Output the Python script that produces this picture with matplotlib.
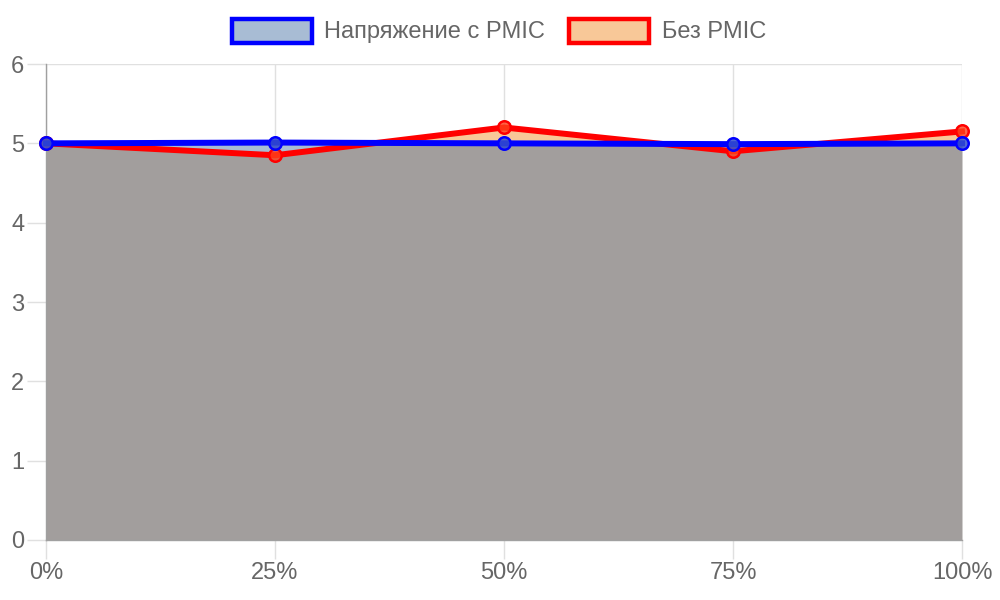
import matplotlib
matplotlib.use("Agg")
import matplotlib.pyplot as plt
from matplotlib.patches import Rectangle
import numpy as np

categories = ["0%", "25%", "50%", "75%", "100%"]
pmic = [5.0, 5.01, 5.0, 4.99, 5.0]
no_pmic = [5.0, 4.85, 5.2, 4.9, 5.15]
series_names = ["Напряжение с PMIC", "Без PMIC"]
y_ticks = [0, 1, 2, 3, 4, 5, 6]

plt.rcParams['font.family'] = ['Liberation Sans', 'DejaVu Sans']
TXT = '#666666'
BLUE_FILL = '#a8bcd4'
RED_FILL = '#f8c898'
GRAY = '#a29e9d'
FS = 17

fig = plt.figure(figsize=(10, 6), dpi=100)
ax = fig.add_axes([0.046, 0.1, 0.916, 0.7933])

x = np.arange(len(categories))
b = np.array(pmic)
r = np.array(no_pmic)

xs = np.linspace(0, len(categories) - 1, 2000)
bs = np.interp(xs, x, b)
rs = np.interp(xs, x, r)
los = np.minimum(bs, rs)
ax.fill_between(xs, 0, los, color=GRAY, lw=0, zorder=1)
ax.fill_between(xs, los, bs, where=bs >= los, color=BLUE_FILL, lw=0, zorder=1)
ax.fill_between(xs, los, rs, where=rs >= los, color=RED_FILL, lw=0, zorder=1)

ax.plot(x, r, color='#ff0000', lw=4.3, zorder=3, clip_on=False)
ax.plot(x, r, 'o', ms=9, mfc=(1, 0.25, 0.1, 0.8), mec='#ff0000', mew=1.8, zorder=4, clip_on=False)
ax.plot(x, b, color='#0000ff', lw=4.3, zorder=5, clip_on=False)
ax.plot(x, b, 'o', ms=9, mfc=(0.2, 0.3, 0.8, 0.85), mec='#0000ff', mew=1.8, zorder=6, clip_on=False)

ax.set_xlim(0, len(categories) - 1)
ax.set_ylim(0, 6)
ax.set_xticks(x)
ax.set_xticklabels(categories)
ax.set_yticks(y_ticks)
ax.set_yticklabels([str(v) for v in y_ticks])
ax.grid(True, color='#e0e0e0', lw=1, zorder=0)
ax.set_axisbelow(True)
for s in ['top', 'right']:
    ax.spines[s].set_visible(False)
for s in ['left', 'bottom']:
    ax.spines[s].set_color('#a0a0a0')
    ax.spines[s].set_linewidth(1)
    ax.spines[s].set_zorder(2)
ax.tick_params(axis='both', colors='#e0e0e0', labelcolor=TXT, labelsize=FS, length=14, width=1)
ax.tick_params(axis='x', pad=2)
ax.tick_params(axis='y', pad=1.5)

W, H = 1000, 600
def frect(x0, y0, x1, y1, fc, ec):
    fig.patches.append(Rectangle((x0 / W, 1 - y1 / H), (x1 - x0) / W, (y1 - y0) / H,
                                 transform=fig.transFigure, fc=fc, ec=ec, lw=3.2, zorder=10))
frect(232, 19, 312, 43, BLUE_FILL, '#0000ff')
fig.text(324 / W, 1 - 32 / H, series_names[0], color=TXT, fontsize=FS, va='center', ha='left')
frect(569, 19, 649, 43, RED_FILL, '#ff0000')
fig.text(662 / W, 1 - 32 / H, series_names[1], color=TXT, fontsize=FS, va='center', ha='left')

fig.savefig('out.png', dpi=100)
